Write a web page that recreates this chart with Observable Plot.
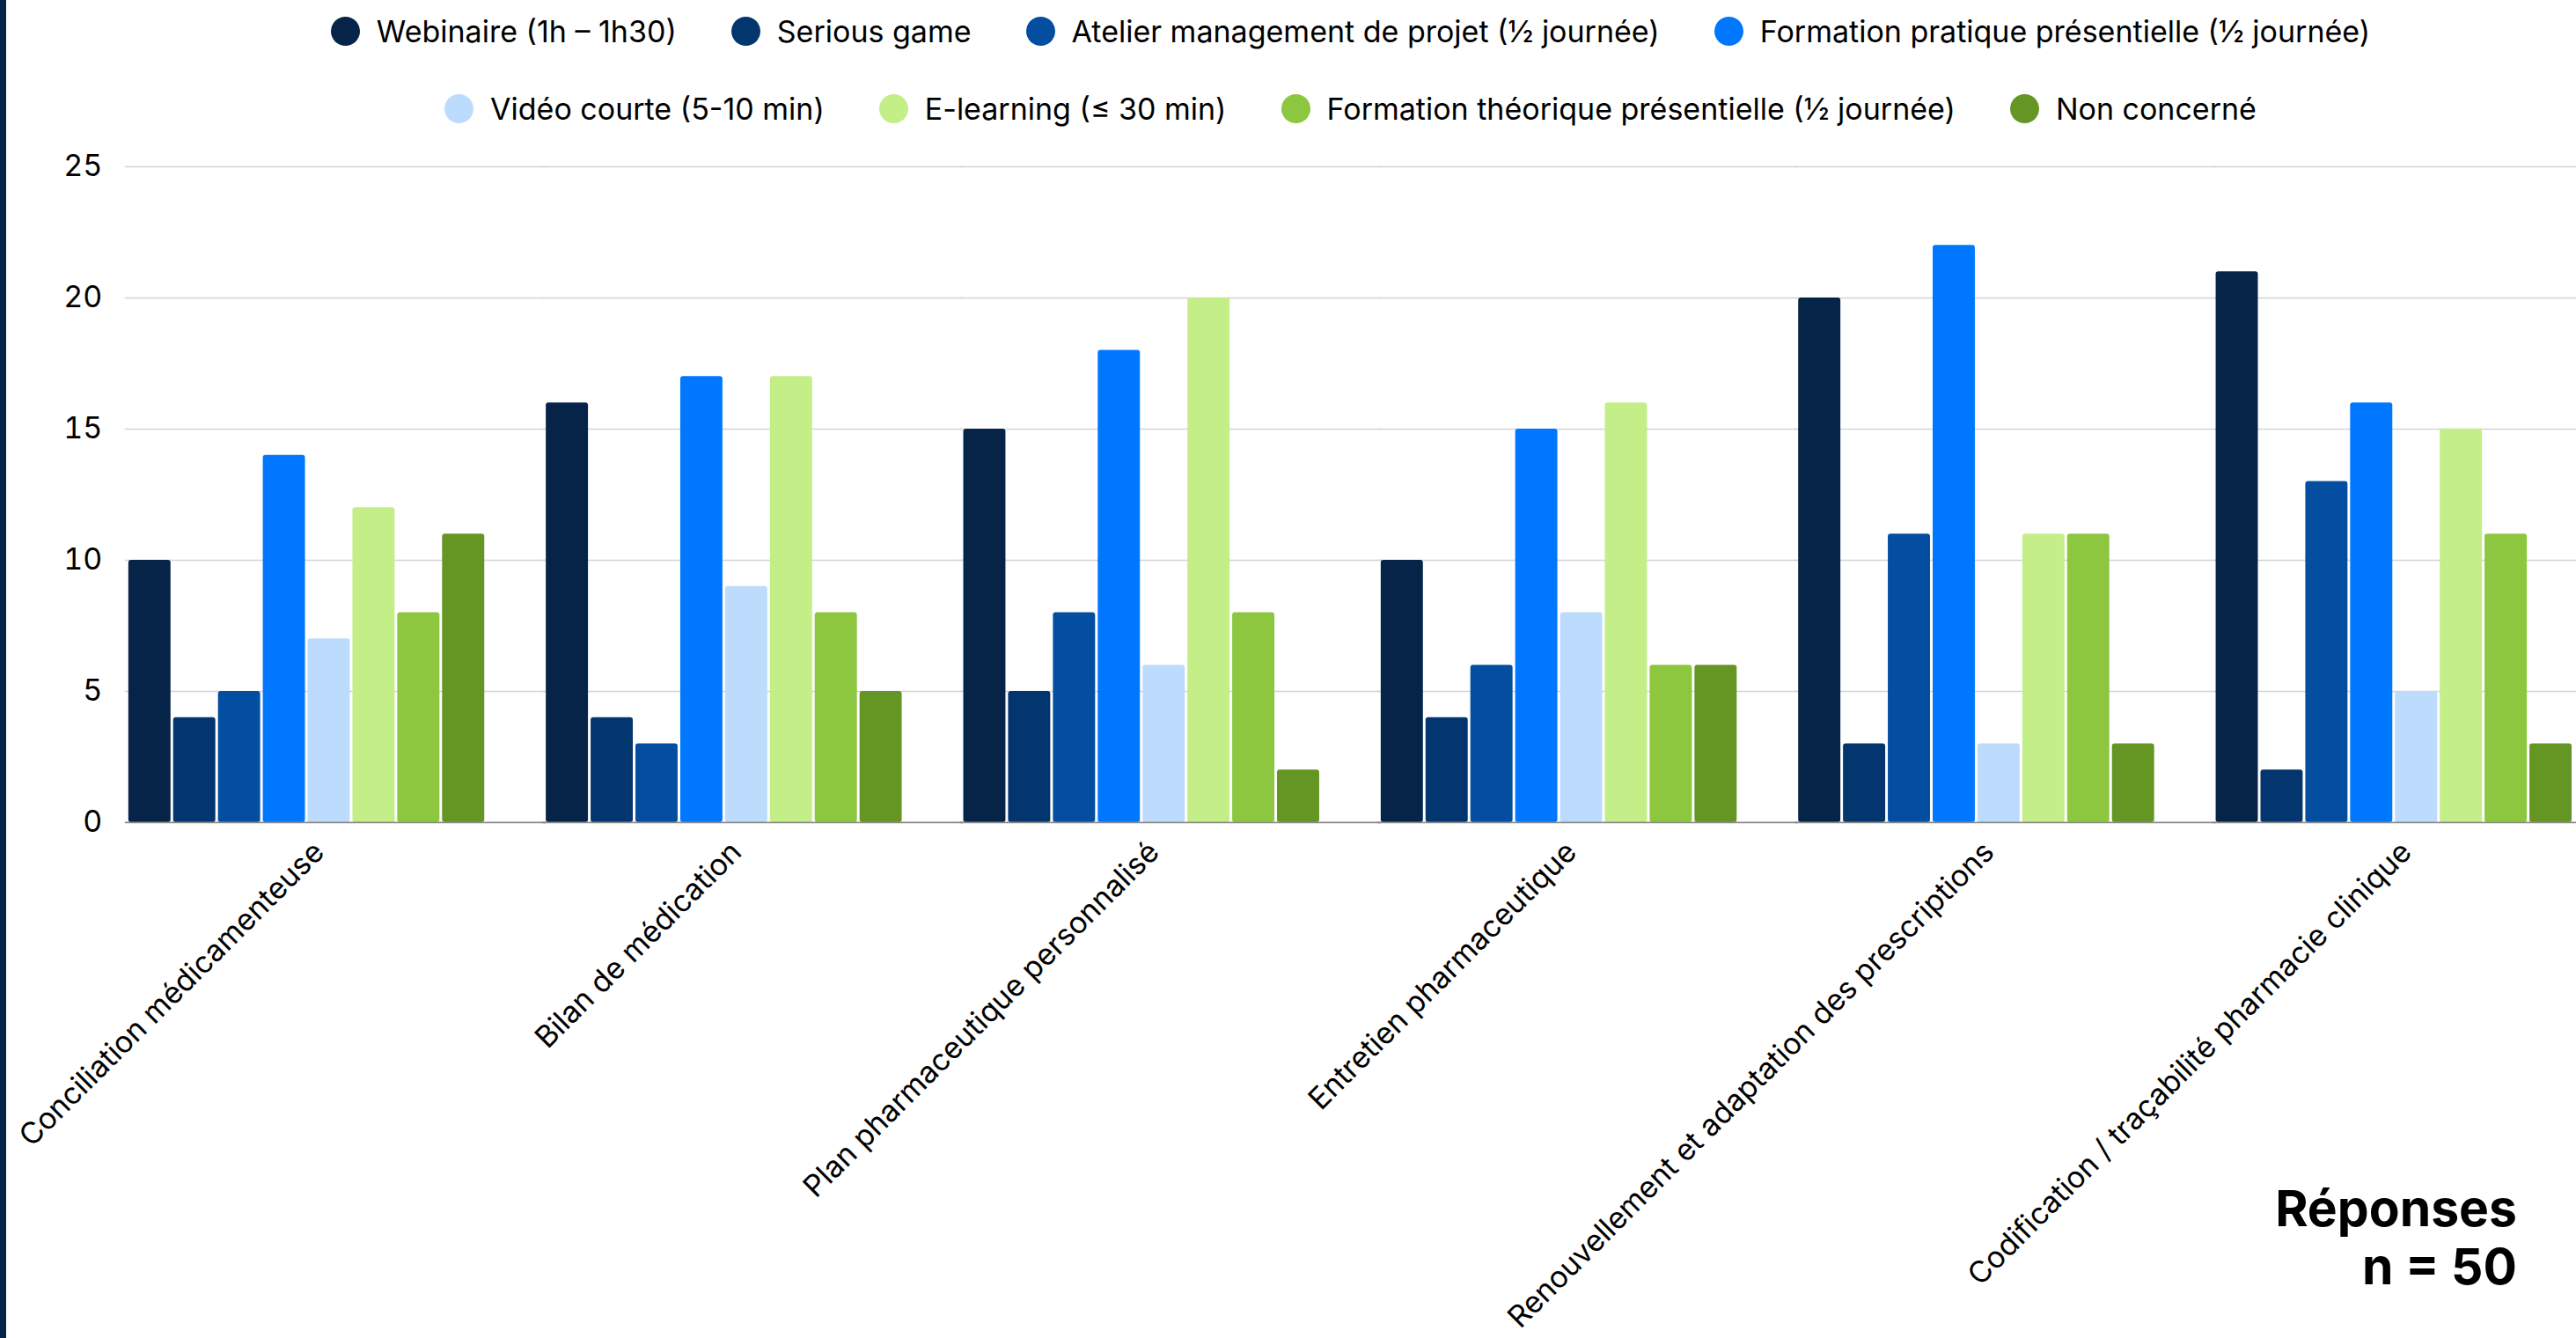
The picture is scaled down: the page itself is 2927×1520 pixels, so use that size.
<!DOCTYPE html>
<html>
<head>
<meta charset="utf-8">
<script src="https://cdn.jsdelivr.net/npm/d3@7"></script>
<script src="https://cdn.jsdelivr.net/npm/@observablehq/plot@0.6"></script>
<style>
  html, body { margin: 0; padding: 0; background: #fff; }
  body { width: 2927px; height: 1520px; position: relative; overflow: hidden; font-family: Inter, "Noto Sans", sans-serif; color: #000; }
  #leftbar { position: absolute; left: 0; top: 0; width: 7px; height: 1520px; background: #062448; z-index: 2; }
  #legend { position: absolute; left: 142px; width: 2785px; top: 0; }
  .row { position: absolute; left: 0; width: 100%; display: flex; justify-content: center; align-items: center; height: 40px; }
  .item { display: flex; align-items: center; margin: 0 31px; font-size: 34px; white-space: nowrap; }
  .dot { width: 33px; height: 33px; border-radius: 50%; margin-right: 19px; flex: none; }
  #chart { position: absolute; left: 0; top: 150px; }
  #note { position: absolute; right: 67px; top: 1340px; text-align: right; font-weight: 700; font-size: 57px; line-height: 66px; }
</style>
</head>
<body>
<div id="leftbar"></div>
<div id="legend"></div>
<div id="chart"></div>
<div id="note">Réponses<br>n = 50</div>
<script>
const categories = [
  "Conciliation médicamenteuse",
  "Bilan de médication",
  "Plan pharmaceutique personnalisé",
  "Entretien pharmaceutique",
  "Renouvellement et adaptation des prescriptions",
  "Codification / traçabilité pharmacie clinique"
];
const series = [
  "Webinaire (1h – 1h30)",
  "Serious game",
  "Atelier management de projet (½ journée)",
  "Formation pratique présentielle (½ journée)",
  "Vidéo courte (5-10 min)",
  "E-learning (≤ 30 min)",
  "Formation théorique présentielle (½ journée)",
  "Non concerné"
];
const colors = ["#062448", "#03356F", "#044EA2", "#0077FF", "#BDDCFD", "#C4EE87", "#8DC63F", "#659522"];
// one array per category, values in series order
const conciliation = [10, 4, 5, 14, 7, 12, 8, 11];
const bilan = [16, 4, 3, 17, 9, 17, 8, 5];
const planPerso = [15, 5, 8, 18, 6, 20, 8, 2];
const entretien = [10, 4, 6, 15, 8, 16, 6, 6];
const renouvellement = [20, 3, 11, 22, 3, 11, 11, 3];
const codification = [21, 2, 13, 16, 5, 15, 11, 3];
const yTicks = [0, 5, 10, 15, 20, 25];

const valuesByCategory = [conciliation, bilan, planPerso, entretien, renouvellement, codification];
const data = [];
categories.forEach((c, i) => series.forEach((s, j) => data.push({category: c, series: s, value: valuesByCategory[i][j]})));

// Legend (two rows of four)
const legend = document.getElementById("legend");
[[0, 4, 15], [4, 8, 103]].forEach(([a, b, top]) => {
  const row = document.createElement("div");
  row.className = "row";
  row.style.top = top + "px";
  series.slice(a, b).forEach((s, k) => {
    const it = document.createElement("div");
    it.className = "item";
    const d = document.createElement("span");
    d.className = "dot";
    d.style.background = colors[a + k];
    const t = document.createElement("span");
    t.textContent = s;
    it.appendChild(d); it.appendChild(t);
    row.appendChild(it);
  });
  legend.appendChild(row);
});

const chart = Plot.plot({
  width: 2931,
  height: 1370,
  marginTop: 39,
  marginBottom: 585,
  marginLeft: 142,
  marginRight: 0,
  style: {fontFamily: "Inter, 'Noto Sans', sans-serif", color: "#000", background: "transparent"},
  fx: {domain: categories, paddingInner: 0.13, paddingOuter: 0},
  x: {domain: series, paddingInner: 0.055, paddingOuter: 0, axis: null},
  y: {domain: [0, 25], ticks: yTicks},
  color: {domain: series, range: colors},
  marks: [
    Plot.ruleY(yTicks.filter(d => d > 0), {stroke: "#d4d4d4", strokeWidth: 1.6, insetRight: -66}),
    Plot.barY(data, {fx: "category", x: "series", y: "value", fill: "series", rx: 3}),
    Plot.ruleY([0], {stroke: "#8a8a8a", strokeWidth: 1.8, insetRight: -66}),
    Plot.axisY({ticks: yTicks, tickSize: 0, tickPadding: 26, fontSize: 34, label: null, fill: "#000"}),
    Plot.axisFx({anchor: "bottom", tickRotate: -45, tickSize: 0, tickPadding: 28, dx: 14, fontSize: 34, label: null, fill: "#000", textAnchor: "end"})
  ]
});
document.getElementById("chart").appendChild(chart);
</script>
</body>
</html>
